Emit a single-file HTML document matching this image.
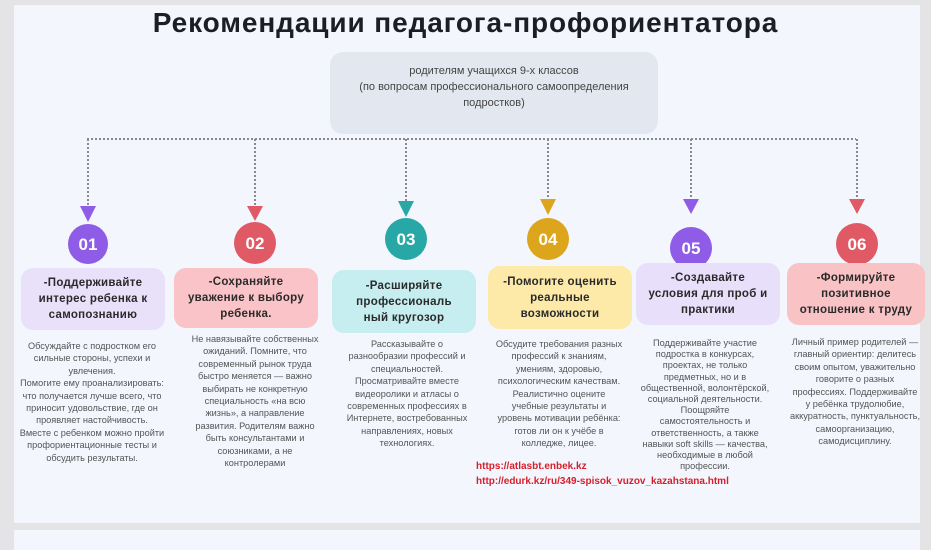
<!DOCTYPE html>
<html><head><meta charset="utf-8">
<style>
*{margin:0;padding:0;box-sizing:border-box}
body{width:931px;height:542px;overflow:hidden;background:#e4e4e6;font-family:"Liberation Sans","DejaVu Sans",sans-serif;position:relative}
.panel{position:absolute;left:14px;top:5px;width:906px;height:518px;background:#f3f6fd}
.panel2{position:absolute;left:14px;top:530px;width:906px;height:20px;background:#f3f6fd}
.title{position:absolute;left:0;width:931px;top:7px;text-align:center;font-size:28px;font-weight:bold;color:#1d1d26;letter-spacing:0.9px}
.top{position:absolute;left:330px;top:52px;width:328px;height:82px;background:#e3e8f0;border-radius:13px;text-align:center;font-size:11px;line-height:16px;color:#444;padding-top:11px}
.h{position:absolute;border-radius:12px;text-align:center;font-weight:bold;font-size:11.5px;line-height:16px;color:#2a2a2a;display:flex;align-items:center;justify-content:center;padding:0 2px;letter-spacing:0.3px;white-space:nowrap}
.t{position:absolute;text-align:center;font-size:9.2px;line-height:12.4px;color:#555;white-space:nowrap}
.lnk{position:absolute;left:476px;font-size:10px;font-weight:bold;color:#d81e2a;white-space:nowrap}
</style></head><body>
<div class="panel"></div><div class="panel2"></div>
<div class="title">Рекомендации педагога-профориентатора</div>
<div class="top">родителям учащихся 9-х классов<br>(по вопросам профессионального самоопределения<br>подростков)</div>
<svg width="931" height="542" style="position:absolute;left:0;top:0">
<g stroke="#8a8a8a" stroke-width="2" stroke-dasharray="2 2" fill="none">
<path d="M87 139H856"/>
<path d="M88 139V206"/><path d="M255 139V206"/><path d="M406 139V201"/><path d="M548 139V199"/><path d="M691 139V199"/><path d="M857 139V199"/>
</g>
<polygon points="80,206 96,206 88,222" fill="#8e5ce6"/>
<polygon points="247,206 263,206 255,221" fill="#e05a66"/>
<polygon points="398,201 414,201 406,217" fill="#27a7a6"/>
<polygon points="540,199 556,199 548,215" fill="#dca51b"/>
<polygon points="683,199 699,199 691,214" fill="#8e5ce6"/>
<polygon points="849,199 865,199 857,214" fill="#e05a66"/>
<g font-family="Liberation Sans, sans-serif" font-weight="bold" font-size="17" fill="#fff" text-anchor="middle">
<circle cx="88" cy="244" r="20" fill="#8e5ce6"/><text x="88" y="250">01</text>
<circle cx="255" cy="243" r="21" fill="#e05a66"/><text x="255" y="249">02</text>
<circle cx="406" cy="239" r="21" fill="#27a7a6"/><text x="406" y="245">03</text>
<circle cx="548" cy="239" r="21" fill="#dca51b"/><text x="548" y="245">04</text>
<circle cx="691" cy="248" r="21" fill="#8e5ce6"/><text x="691" y="254">05</text>
<circle cx="857" cy="244" r="21" fill="#e05a66"/><text x="857" y="250">06</text>
</g>
</svg>
<div class="h" style="left:21px;top:268px;width:144px;height:62px;background:#e9e1fa">-Поддерживайте<br>интерес ребенка к<br>самопознанию</div>
<div class="h" style="left:174px;top:268px;width:144px;height:60px;background:#f9c3c7">-Сохраняйте<br>уважение к выбору<br>ребенка.</div>
<div class="h" style="left:332px;top:270px;width:144px;height:63px;background:#c6edef">-Расширяйте<br>профессиональ<br>ный кругозор</div>
<div class="h" style="left:488px;top:266px;width:144px;height:63px;background:#fde9a8">-Помогите оценить<br>реальные<br>возможности</div>
<div class="h" style="left:636px;top:263px;width:144px;height:62px;background:#e8e0fb">-Создавайте<br>условия для проб и<br>практики</div>
<div class="h" style="left:787px;top:263px;width:138px;height:62px;background:#f9c3c6">-Формируйте<br>позитивное<br>отношение к труду</div>

<div class="t" style="left:17px;top:340px;width:150px">Обсуждайте с подростком его<br>сильные стороны, успехи и<br>увлечения.<br>Помогите ему проанализировать:<br>что получается лучше всего, что<br>приносит удовольствие, где он<br>проявляет настойчивость.<br>Вместе с ребенком можно пройти<br>профориентационные тесты и<br>обсудить результаты.</div>
<div class="t" style="left:180px;top:333px;width:150px">Не навязывайте собственных<br>ожиданий. Помните, что<br>современный рынок труда<br>быстро меняется — важно<br>выбирать не конкретную<br>специальность «на всю<br>жизнь», а направление<br>развития. Родителям важно<br>быть консультантами и<br>союзниками, а не<br>контролерами</div>
<div class="t" style="left:332px;top:338px;width:150px">Рассказывайте о<br>разнообразии профессий и<br>специальностей.<br>Просматривайте вместе<br>видеоролики и атласы о<br>современных профессиях в<br>Интернете, востребованных<br>направлениях, новых<br>технологиях.</div>
<div class="t" style="left:484px;top:338px;width:150px">Обсудите требования разных<br>профессий к знаниям,<br>умениям, здоровью,<br>психологическим качествам.<br>Реалистично оцените<br>учебные результаты и<br>уровень мотивации ребёнка:<br>готов ли он к учёбе в<br>колледже, лицее.</div>
<div class="t" style="left:630px;top:338px;width:150px;line-height:11.2px">Поддерживайте участие<br>подростка в конкурсах,<br>проектах, не только<br>предметных, но и в<br>общественной, волонтёрской,<br>социальной деятельности.<br>Поощряйте<br>самостоятельность и<br>ответственность, а также<br>навыки soft skills — качества,<br>необходимые в любой<br>профессии.</div>
<div class="t" style="left:780px;top:336px;width:150px">Личный пример родителей —<br>главный ориентир: делитесь<br>своим опытом, уважительно<br>говорите о разных<br>профессиях. Поддерживайте<br>у ребёнка трудолюбие,<br>аккуратность, пунктуальность,<br>самоорганизацию,<br>самодисциплину.</div>

<div class="lnk" style="top:461px">https://atlasbt.enbek.kz</div>
<div class="lnk" style="top:476px">http://edurk.kz/ru/349-spisok_vuzov_kazahstana.html</div>
</body></html>
